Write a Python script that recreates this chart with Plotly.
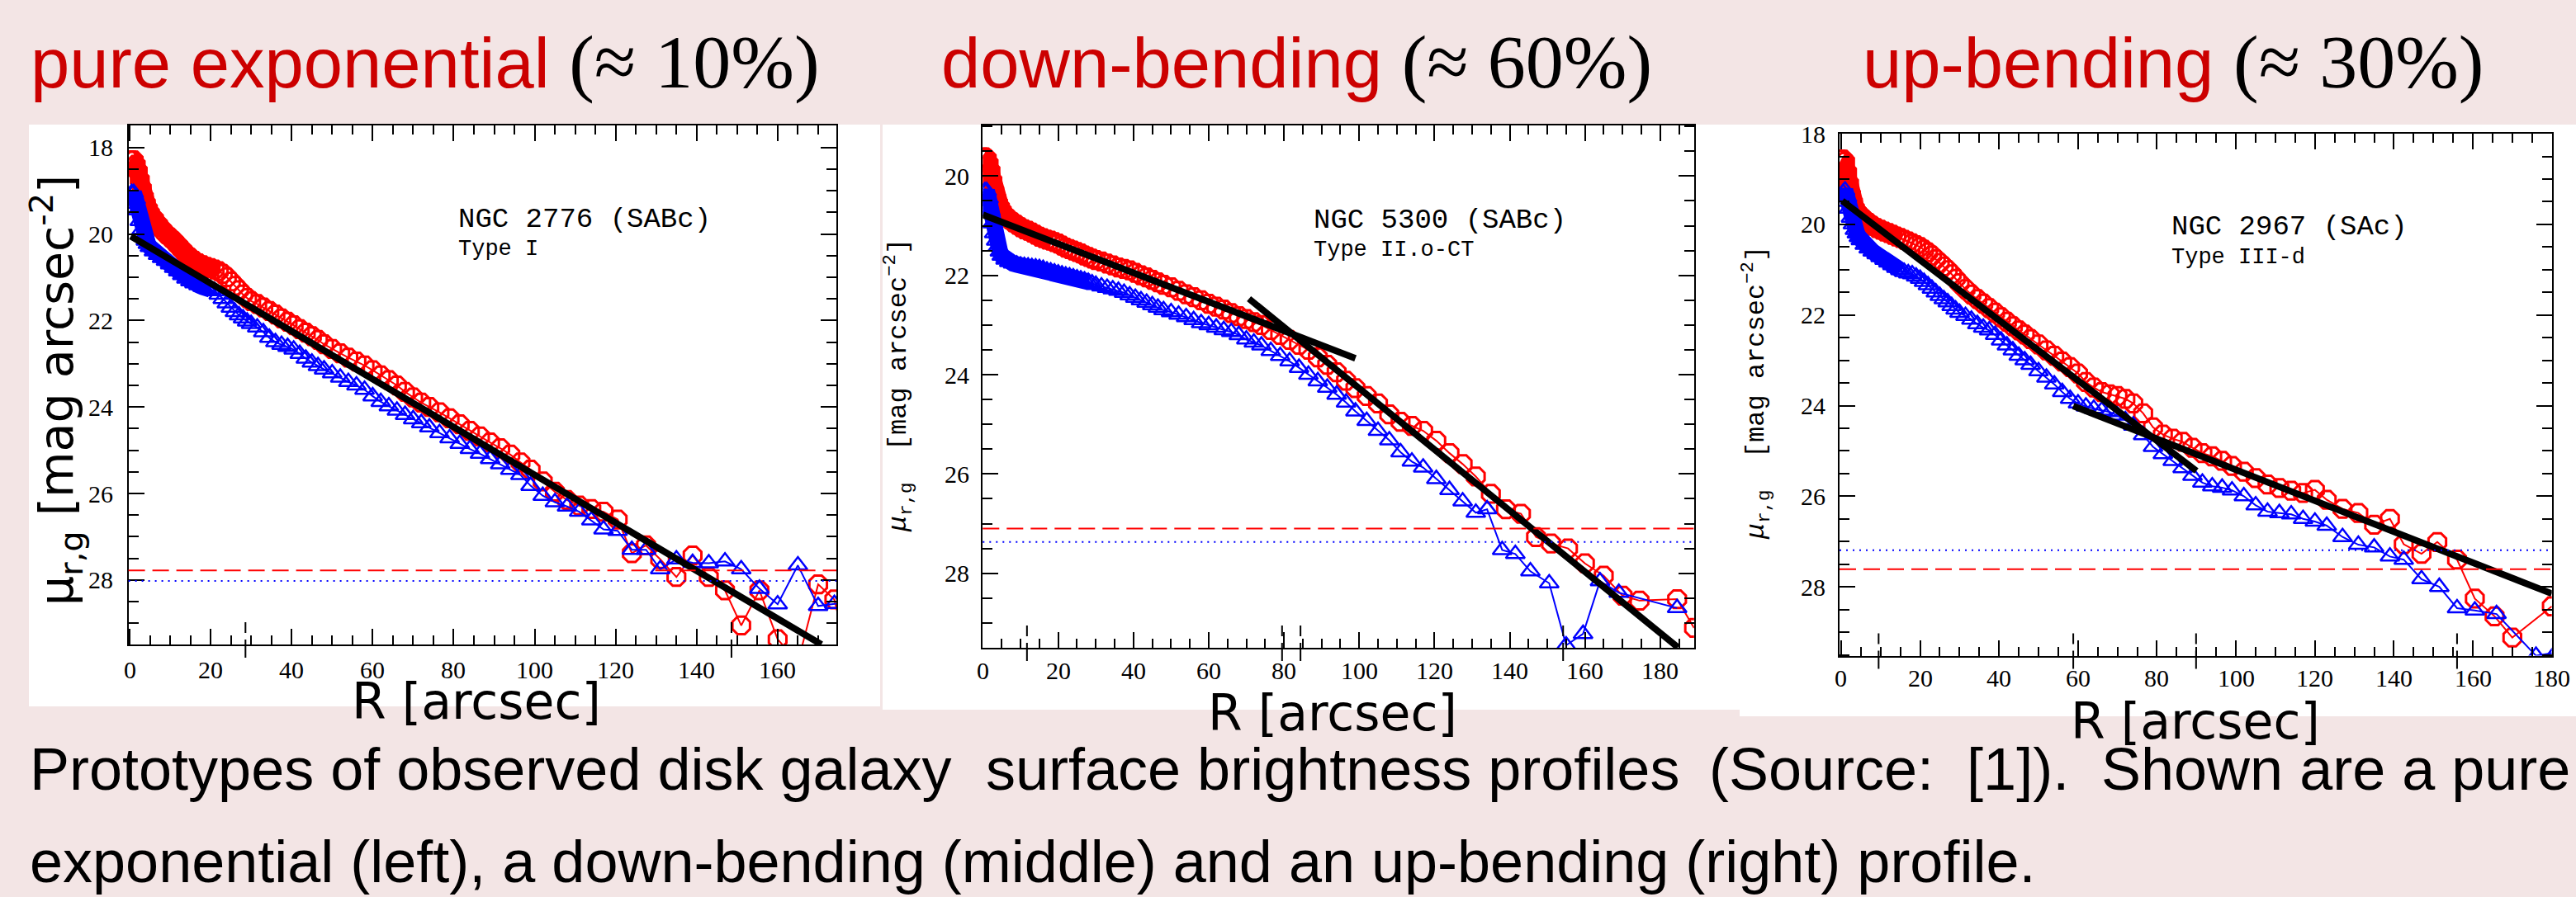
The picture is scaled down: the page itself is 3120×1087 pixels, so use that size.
import plotly.graph_objects as go

W, H = 3120, 1087
PINK = "#f3e5e5"

# ------------------------------------------------------------------ data
R_inner = [0, 0.5, 1, 1.5, 2, 2.5, 3, 3.5, 4, 4.5, 5, 6, 7, 8, 9, 10, 11, 12, 13, 14, 15,
           16, 17, 18, 19, 20, 21, 22, 23, 24, 25, 26, 27, 28, 29, 30]

# --- NGC 2776 (pure exponential)
exp_R_outer = [31.5, 33, 34.5, 36, 37.5, 39, 40.5, 42, 43.5, 45, 46.5, 48,
               50, 52, 54, 56, 58, 60, 62, 64, 66, 68, 70, 72, 74,
               76.5, 79, 81.5, 84, 86.5, 89, 91.5, 94, 96.5, 99,
               102, 105, 108, 111, 114, 117,
               120.5, 124, 127.5, 131, 135, 139, 143, 147, 151, 155.5, 160, 165, 170, 174, 178]
exp_mu_r = [18.3, 18.3, 18.3, 18.4, 18.55, 18.75, 18.95, 19.15, 19.3, 19.42, 19.52, 19.65,
            19.78, 19.9, 20.0, 20.08, 20.17, 20.27, 20.37, 20.47, 20.55, 20.62, 20.68, 20.72,
            20.76, 20.79, 20.82, 20.86, 20.92, 21.0, 21.1, 21.2, 21.3, 21.4, 21.48, 21.55,
            21.62, 21.7, 21.78, 21.86, 21.95, 22.03, 22.11, 22.2, 22.28, 22.36, 22.45, 22.55,
            22.66, 22.76, 22.86, 22.95, 23.04, 23.15, 23.27, 23.38, 23.5, 23.65, 23.78, 23.9, 24.0,
            24.12, 24.26, 24.4, 24.55, 24.68, 24.82, 24.95, 25.1, 25.28, 25.45,
            25.72, 25.96, 26.15, 26.28, 26.36, 26.42,
            26.6, 27.38, 27.2, 27.52, 27.93, 27.43, 27.93, 28.24, 29.05, 28.24, 29.37, 29.9, 28.1, 28.45, 30.0]
exp_mu_g = [19.3, 19.05, 19.05, 19.2, 19.45, 19.7, 19.9, 20.05, 20.15, 20.23, 20.3, 20.4,
            20.48, 20.55, 20.62, 20.7, 20.78, 20.86, 20.95, 21.03, 21.09, 21.14, 21.18, 21.22,
            21.25, 21.28, 21.32, 21.4, 21.5, 21.6, 21.7, 21.8, 21.88, 21.95, 22.02, 22.08,
            22.16, 22.27, 22.4, 22.5, 22.56, 22.61, 22.67, 22.77, 22.88, 22.97, 23.05, 23.13,
            23.22, 23.32, 23.42, 23.5, 23.6, 23.75, 23.88, 23.98, 24.08, 24.18, 24.28, 24.37, 24.47,
            24.6, 24.72, 24.85, 24.97, 25.08, 25.2, 25.32, 25.45, 25.57, 25.82,
            26.05, 26.2, 26.3, 26.42, 26.62, 26.83,
            26.86, 27.3, 27.3, 27.75, 27.52, 27.6, 27.61, 27.57, 27.75, 28.2, 28.56, 27.66, 28.6, 28.55, 28.5]
exp_R_r = R_inner + exp_R_outer
exp_R_g = R_inner + exp_R_outer
exp_fit_R = [[0.3, 170.8]]
exp_fit_mu = [[20.05, 29.49]]
exp_sky_r, exp_sky_g = 27.78, 28.02
exp_breaks = [28.6, 148.6]

# --- NGC 5300 (down-bending)
down_R_r = R_inner + [31.5, 33, 34.5, 36, 37.5, 39, 40.5, 42, 43.5, 45, 46.5, 48,
                      50, 52, 54, 56, 58, 60, 62, 64, 66, 68, 70, 72, 74,
                      76.5, 79, 81.5, 84, 86.5, 89, 91.5, 94, 96.5, 99,
                      102, 105, 108, 111, 114, 117,
                      120.5, 124, 127.5, 131, 135, 139, 143, 147, 151, 155.5, 160, 165, 170, 174.5, 184.5, 189]
down_mu_r = [19.62, 19.62, 19.65, 19.75, 19.9, 20.1, 20.3, 20.45, 20.55, 20.63, 20.7, 20.8,
             20.87, 20.93, 20.98, 21.03, 21.07, 21.1, 21.14, 21.18, 21.22, 21.25, 21.28, 21.3,
             21.33, 21.36, 21.4, 21.44, 21.47, 21.5, 21.53, 21.56, 21.6, 21.63, 21.66, 21.69,
             21.72, 21.76, 21.8, 21.84, 21.87, 21.9, 21.95, 22.0, 22.04, 22.09, 22.14, 22.19,
             22.24, 22.31, 22.38, 22.44, 22.5, 22.57, 22.63, 22.69, 22.76, 22.82, 22.88, 22.94, 23.0,
             23.1, 23.2, 23.3, 23.4, 23.5, 23.65, 23.8, 23.95, 24.12, 24.27,
             24.43, 24.58, 24.8, 24.95, 25.03, 25.13,
             25.33, 25.58, 25.8, 26.05, 26.4, 26.71, 26.8, 27.27, 27.4, 27.5, 27.8, 28.05, 28.45, 28.55, 28.52, 29.1]
down_R_g = R_inner + [31.5, 33, 34.5, 36, 37.5, 39, 40.5, 42, 43.5, 45, 46.5, 48,
                      50, 52, 54, 56, 58, 60, 62, 64, 66, 68, 70, 72, 74,
                      76.5, 79, 81.5, 84, 86.5, 89, 91.5, 94, 96.5, 99,
                      102, 105, 108, 111, 114, 117,
                      120.5, 124, 127.5, 131, 134, 138, 141.5, 145.5, 150.5, 155, 159.5, 164, 169, 184.5]
down_mu_g = [20.5, 20.3, 20.3, 20.45, 20.7, 20.95, 21.15, 21.3, 21.42, 21.52, 21.6, 21.68,
             21.73, 21.76, 21.78, 21.8, 21.81, 21.82, 21.83, 21.84, 21.85, 21.87, 21.9, 21.92,
             21.94, 21.96, 21.98, 22.0, 22.02, 22.04, 22.06, 22.08, 22.1, 22.13, 22.16, 22.19,
             22.22, 22.25, 22.28, 22.31, 22.35, 22.4, 22.45, 22.5, 22.55, 22.6, 22.65, 22.7,
             22.74, 22.79, 22.84, 22.9, 22.96, 23.0, 23.05, 23.1, 23.14, 23.2, 23.29, 23.35, 23.41,
             23.52, 23.62, 23.73, 23.86, 24.0, 24.13, 24.26, 24.4, 24.56, 24.74,
             24.93, 25.13, 25.32, 25.56, 25.75, 25.87,
             26.1, 26.32, 26.55, 26.78, 26.71, 27.53, 27.61, 27.96, 28.2, 29.45, 29.22, 28.16, 28.39, 28.7]
down_fit_R = [[0, 99], [70.7, 184.7]]
down_fit_mu = [[20.78, 23.67], [22.47, 29.49]]
down_sky_r, down_sky_g = 27.1, 27.37
down_breaks = [11.7, 79.5, 84.4, 154.2]

# --- NGC 2967 (up-bending)
up_R_r = R_inner + [31.5, 33, 34.5, 36, 37.5, 39, 40.5, 42, 43.5, 45, 46.5, 48,
                    50, 52, 54, 56, 58, 60, 62, 64, 66, 68, 70, 72, 74,
                    76.5, 79, 81.5, 84, 86.5, 89, 91.5, 94, 96.5, 99,
                    102, 105, 108, 111, 114, 117,
                    120, 123, 127, 131, 135, 139, 142.5, 147, 151, 156, 160.5, 165.5, 170, 180]
up_mu_r = [18.57, 18.57, 18.62, 18.85, 19.1, 19.35, 19.52, 19.65, 19.73, 19.78, 19.82, 19.9,
           19.97, 20.03, 20.08, 20.12, 20.16, 20.19, 20.23, 20.27, 20.3, 20.34, 20.38, 20.42,
           20.46, 20.5, 20.56, 20.62, 20.69, 20.77, 20.85, 20.93, 21.01, 21.1, 21.2, 21.3,
           21.43, 21.55, 21.65, 21.75, 21.85, 21.95, 22.05, 22.15, 22.25, 22.34, 22.43, 22.53,
           22.65, 22.78, 22.9, 23.03, 23.15, 23.29, 23.48, 23.6, 23.7, 23.75, 23.79, 23.85, 23.95,
           24.17, 24.48, 24.64, 24.73, 24.8, 24.93, 25.05, 25.12, 25.22, 25.33,
           25.46, 25.6, 25.74, 25.82, 25.88, 25.93,
           25.86, 26.08, 26.28, 26.37, 26.63, 26.5, 27.06, 27.27, 27.01, 27.4, 28.26, 28.65, 29.12, 28.43]
up_R_g = R_inner + [31.5, 33, 34.5, 36, 37.5, 39, 40.5, 42, 43.5, 45, 46.5, 48,
                    50, 52, 54, 56, 58, 60, 62, 64, 66, 68, 70, 72, 74,
                    76.5, 79, 81.5, 84, 86.5, 89, 91.5, 94, 96.5, 99,
                    102, 105, 108, 111, 114, 117,
                    120, 123, 127, 131, 135, 139, 142.5, 147, 151.5, 156, 160.5, 166, 176, 181]
up_mu_g = [19.5, 19.3, 19.25, 19.4, 19.65, 19.85, 20.0, 20.12, 20.2, 20.28, 20.35, 20.45,
           20.53, 20.6, 20.66, 20.72, 20.78, 20.84, 20.9, 20.96, 21.01, 21.05, 21.08, 21.1,
           21.15, 21.2, 21.27, 21.34, 21.42, 21.5, 21.58, 21.65, 21.72, 21.8, 21.88, 21.95,
           22.02, 22.1, 22.2, 22.28, 22.34, 22.44, 22.56, 22.67, 22.78, 22.9, 23.0, 23.1,
           23.24, 23.38, 23.53, 23.7, 23.85, 23.95, 24.02, 24.07, 24.11, 24.14, 24.22, 24.32, 24.44,
           24.65, 24.91, 25.07, 25.22, 25.38, 25.55, 25.7, 25.78, 25.81, 25.87,
           26.0, 26.2, 26.34, 26.37, 26.4, 26.5,
           26.56, 26.65, 26.9, 27.07, 27.13, 27.33, 27.4, 27.83, 28.0, 28.47, 28.52, 28.6, 29.52, 29.45]
up_fit_R = [[0.3, 90], [58.8, 180]]
up_fit_mu = [[19.48, 25.44], [24.01, 28.15]]
up_sky_r, up_sky_g = 27.61, 27.19
up_breaks = [9.5, 58.8, 89.9, 156]

# tick values
exp_xticks = [0, 20, 40, 60, 80, 100, 120, 140, 160]
wide_xticks = [0, 20, 40, 60, 80, 100, 120, 140, 160, 180]
exp_yticks = [18, 20, 22, 24, 26, 28]
down_yticks = [20, 22, 24, 26, 28]
up_yticks = [18, 20, 22, 24, 26, 28]

# texts
titles = [("pure exponential", "(≈ 10%)"),
          ("down-bending", "(≈ 60%)"),
          ("up-bending", "(≈ 30%)")]
galaxy_names = ["NGC 2776 (SABc)", "NGC 5300 (SABc)", "NGC 2967 (SAc)"]
galaxy_types = ["Type I", "Type II.o-CT", "Type III-d"]
caption_line1 = ["Prototypes of observed disk galaxy", "surface brightness profiles",
                 "(Source:\u00a0 [1]).", "Shown are a pure"]
caption_line2 = "exponential (left), a down-bending (middle) and an up-bending (right) profile."

# ------------------------------------------------------------------ layout geometry (pixels)
def fx(p):
    return p / W


def fy(p):
    return 1 - p / H


panels = [
    dict(white=(35, 151, 1066, 856), frame=(155.6, 152, 1013, 781),
         xr=[-0.29, 174.5], yr=[29.49, 17.49], xt=exp_xticks, yt=exp_yticks,
         Rr=exp_R_r, mr=exp_mu_r, Rg=exp_R_g, mg=exp_mu_g,
         fitR=exp_fit_R, fitm=exp_fit_mu, skyr=exp_sky_r, skyg=exp_sky_g, br=exp_breaks,
         core_r=22, core_g=20, ygap=17, xgap=30),
    dict(white=(1069, 151, 2107, 860), frame=(1190.3, 152, 2051.8, 785),
         xr=[-0.05, 189.0], yr=[29.5, 18.98], xt=wide_xticks, yt=down_yticks,
         Rr=down_R_r, mr=down_mu_r, Rg=down_R_g, mg=down_mu_g,
         fitR=down_fit_R, fitm=down_fit_mu, skyr=down_sky_r, skyg=down_sky_g, br=down_breaks,
         core_r=18, core_g=28, ygap=14, xgap=27),
    dict(white=(2107, 151, 3120, 868), frame=(2228, 161.5, 3090.7, 794.6),
         xr=[-0.4, 180.0], yr=[29.52, 17.99], xt=wide_xticks, yt=up_yticks,
         Rr=up_R_r, mr=up_mu_r, Rg=up_R_g, mg=up_mu_g,
         fitR=up_fit_R, fitm=up_fit_mu, skyr=up_sky_r, skyg=up_sky_g, br=up_breaks,
         core_r=15, core_g=15, ygap=15, xgap=27),
]

RED, BLUE = "#ff0000", "#0000ff"
TICKFONT = dict(family="Liberation Serif", size=30, color="black")
fig = go.Figure()
shapes, annotations = [], []
layout_axes = {}

for i, p in enumerate(panels):
    sfx = "" if i == 0 else str(i + 1)
    xa, ya = "x" + sfx, "y" + sfx
    x0, y0, x1, y1 = p["frame"]

    wx0, wy0, wx1, wy1 = p["white"]
    shapes.append(dict(type="rect", xref="paper", yref="paper", x0=fx(wx0), x1=fx(wx1),
                       y0=fy(wy1), y1=fy(wy0), fillcolor="white", line=dict(width=0), layer="below"))

    k = [j for j, r in enumerate(p["Rr"]) if r <= p["core_r"]]
    fig.add_trace(go.Scatter(x=[p["Rr"][j] for j in k], y=[p["mr"][j] for j in k], mode="lines",
                             line=dict(color=RED, width=21), xaxis=xa, yaxis=ya,
                             hoverinfo="skip", showlegend=False))
    fig.add_trace(go.Scatter(x=p["Rr"], y=p["mr"], mode="lines+markers",
                             line=dict(color=RED, width=2),
                             marker=dict(symbol="octagon-open", size=23, color=RED,
                                         line=dict(color=RED, width=3)),
                             xaxis=xa, yaxis=ya, showlegend=False))
    k = [j for j, r in enumerate(p["Rg"]) if r <= p["core_g"]]
    fig.add_trace(go.Scatter(x=[p["Rg"][j] for j in k], y=[p["mg"][j] for j in k], mode="lines",
                             line=dict(color=BLUE, width=20), xaxis=xa, yaxis=ya,
                             hoverinfo="skip", showlegend=False))
    fig.add_trace(go.Scatter(x=p["Rg"], y=p["mg"], mode="lines+markers",
                             line=dict(color=BLUE, width=2),
                             marker=dict(symbol="triangle-up-open", size=20, color=BLUE,
                                         line=dict(color=BLUE, width=2.5)),
                             xaxis=xa, yaxis=ya, showlegend=False))
    for fr, fm in zip(p["fitR"], p["fitm"]):
        fig.add_trace(go.Scatter(x=fr, y=fm, mode="lines", line=dict(color="black", width=8),
                                 xaxis=xa, yaxis=ya, showlegend=False))

    shapes.append(dict(type="line", xref=xa + " domain", yref=ya, x0=0, x1=1,
                       y0=p["skyr"], y1=p["skyr"], line=dict(color=RED, width=2, dash="20px,9px")))
    shapes.append(dict(type="line", xref=xa + " domain", yref=ya, x0=0, x1=1,
                       y0=p["skyg"], y1=p["skyg"], line=dict(color=BLUE, width=2, dash="2px,6px")))
    for b in p["br"]:
        shapes.append(dict(type="line", xref=xa, yref="paper", x0=b, x1=b,
                           y0=fy(y1 + 16), y1=fy(y1 - 27),
                           line=dict(color="black", width=2, dash="22px,8px")))

    # tick labels, placed on the axes' own scales
    for v in p["xt"]:
        annotations.append(dict(xref=xa, yref="paper", x=v, y=fy(y1 + p["xgap"]), text=str(v),
                                showarrow=False, xanchor="center", yanchor="middle",
                                font=TICKFONT))
    for v in p["yt"]:
        annotations.append(dict(xref="paper", yref=ya, x=fx(x0 - p["ygap"]), y=v, text=str(v),
                                showarrow=False, xanchor="right", yanchor="middle",
                                font=TICKFONT))

    common = dict(showline=True, linecolor="black", linewidth=2, mirror="allticks",
                  ticks="inside", tickcolor="black", tickwidth=1.5, showgrid=False,
                  zeroline=False, showticklabels=False)
    layout_axes["xaxis" + sfx] = dict(common, domain=[fx(x0), fx(x1)], range=p["xr"], anchor=ya,
                                      tickvals=p["xt"], ticklen=19,
                                      minor=dict(ticks="inside", dtick=5, tick0=0, ticklen=11,
                                                 tickcolor="black", tickwidth=1.5))
    layout_axes["yaxis" + sfx] = dict(common, domain=[fy(y1), fy(y0)], range=p["yr"], anchor=xa,
                                      tickvals=p["yt"], ticklen=19,
                                      minor=dict(ticks="inside", dtick=0.5, tick0=0, ticklen=12,
                                                 tickcolor="black", tickwidth=1.5))


def text(x, y, s, size, family, xanchor="left", angle=0, color="black"):
    annotations.append(dict(xref="paper", yref="paper", x=fx(x), y=fy(y), text=s,
                            showarrow=False, xanchor=xanchor, yanchor="middle",
                            textangle=angle, font=dict(family=family, size=size, color=color)))


for (t, pct), x in zip(titles, [35, 1138, 2254]):
    s = (f'<span style="color:#cc0000">{t}</span> '
         f'<span style="font-family:Liberation Serif;font-size:92px">{pct}</span>')
    text(x, 105 - 30, s, 85, "Liberation Sans")

for name, typ, (x, yb1, yb2) in zip(galaxy_names, galaxy_types,
                                     [(553, 274.5, 309), (1589, 276, 310), (2628, 284, 319)]):
    text(x, yb1 - 9, name, 34, "Liberation Mono")
    text(x, yb2 - 7, typ, 27, "Liberation Mono")

text(68, 473, "μ<sub>r,g</sub> [mag arcsec<sup>-2</sup>]", 57, "DejaVu Sans", "center", -90)
small_ylab = "<i>μ</i><sub>r,g</sub>\u00a0\u00a0[mag\u00a0arcsec<sup>−2</sup>]"
text(1088, 467, small_ylab, 32, "Liberation Mono", "center", -90)
text(2127, 476, small_ylab, 32, "Liberation Mono", "center", -90)
for x, yb in [(577, 868), (1614, 882), (2659, 892)]:
    text(x, yb - 18, "R [arcsec]", 60, "DejaVu Sans", "center")

for s, x, anc in zip(caption_line1, [34, 1192, 2068, 3115], ["left", "left", "left", "right"]):
    text(x, 957 - 25, s, 72, "Liberation Sans", anc)
text(34, 1069 - 25, caption_line2, 72, "Liberation Sans")

fig.update_layout(width=W, height=H, margin=dict(l=0, r=0, t=0, b=0),
                  paper_bgcolor=PINK, plot_bgcolor="white", showlegend=False,
                  shapes=shapes, annotations=annotations, **layout_axes)

fig.write_html("out.html", config={"displayModeBar": False},
               post_script="document.body.style.margin='0';document.body.style.overflow='hidden';")
